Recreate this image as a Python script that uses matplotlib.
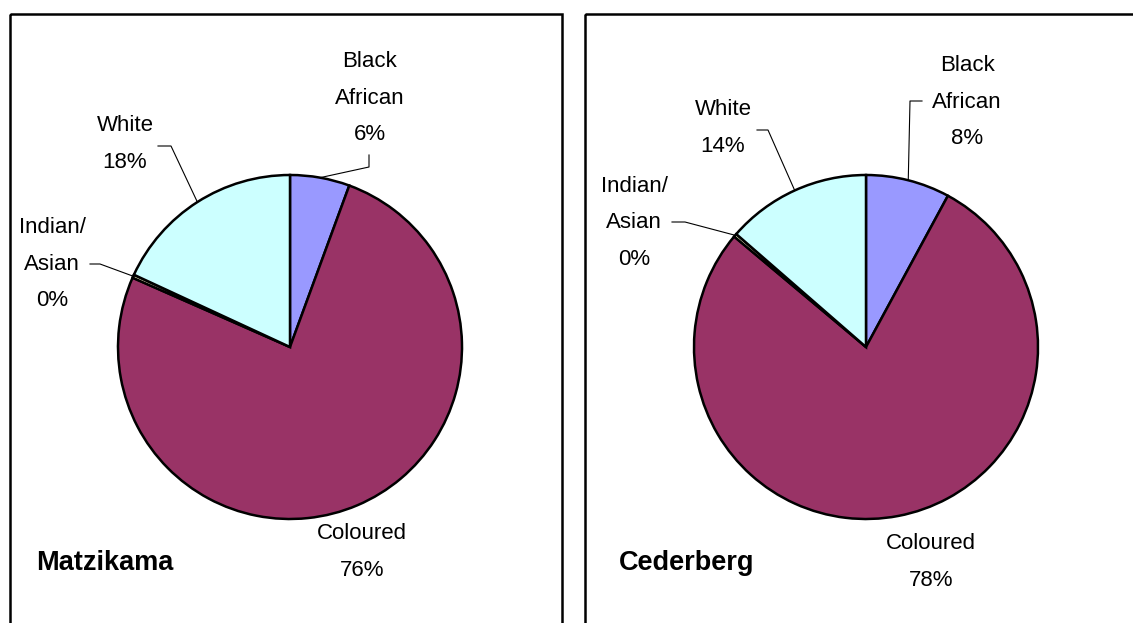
import matplotlib
matplotlib.use("Agg")
import matplotlib.pyplot as plt
from matplotlib.patches import Rectangle
import numpy as np

# Population group shares (%) per municipality
groups = ["Black\nAfrican", "Coloured", "Indian/\nAsian", "White"]
matzikama = [5.6, 76.0, 0.3, 18.1]
cederberg = [7.9, 78.2, 0.3, 13.6]
municipalities = ["Matzikama", "Cederberg"]
colours = ["#9999FF", "#993366", "#FFFFCC", "#CCFFFF"]

plt.rcParams["font.family"] = ["Liberation Sans", "DejaVu Sans"]

W, H = 1133, 623
fig = plt.figure(figsize=(W / 100, H / 100), dpi=100)
ax = fig.add_axes([0, 0, 1, 1])

# Layout in pixel units (y grows downwards)
panels = [
    dict(values=matzikama, name=municipalities[0], box=(10, 14, 552), centre=(290, 347),
         title_xy=(36, 563),
         text=[(370, 98), (362, 552), (52, 264), (125, 144)],
         leaders=[[(369, 155), (369, 167)], None,
                  [(90, 264), (100, 264)], [(158, 146), (171, 146)]]),
    dict(values=cederberg, name=municipalities[1], box=(585, 14, 600), centre=(866, 347),
         title_xy=(619, 563),
         text=[(967, 102), (931, 562), (634, 223), (723, 128)],
         leaders=[[(922, 101), (910, 101)], None,
                  [(672, 222), (685, 222)], [(757, 130), (768, 130)]]),
]
R = 172

for p in panels:
    x0, y0, w = p["box"]
    ax.add_patch(Rectangle((x0, y0), w, 800, fill=False, edgecolor="black", lw=1.8))
    wedges, _ = ax.pie(p["values"], colors=colours, startangle=-90, counterclock=True,
                       center=p["centre"], radius=R, frame=True,
                       wedgeprops=dict(edgecolor="black", linewidth=1.8))
    cx, cy = p["centre"]
    for wdg, grp, val, (tx, ty), lead in zip(wedges, groups, p["values"], p["text"], p["leaders"]):
        ax.text(tx, ty, f"{grp}\n{round(val):d}%", ha="center", va="center",
                multialignment="center", fontsize=16, linespacing=1.96)
        if lead is not None:
            mid = np.deg2rad((wdg.theta1 + wdg.theta2) / 2)
            end = (cx + R * np.cos(mid), cy + R * np.sin(mid))
            xs = [pt[0] for pt in lead] + [end[0]]
            ys = [pt[1] for pt in lead] + [end[1]]
            ax.plot(xs, ys, color="black", lw=0.8)
    ax.text(p["title_xy"][0], p["title_xy"][1], p["name"], ha="left", va="center",
            fontsize=19.5, fontweight="bold")

ax.set_xlim(0, W)
ax.set_ylim(H, 0)
ax.set_aspect("auto")
ax.axis("off")

fig.savefig("out.png", dpi=100, facecolor="white")
